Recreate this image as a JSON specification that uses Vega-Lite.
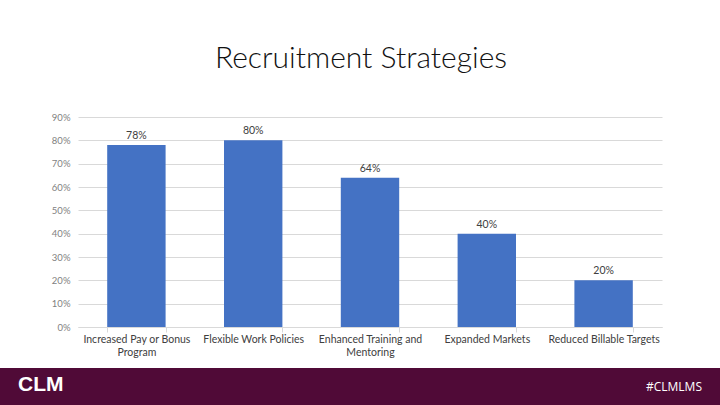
{
  "$schema": "https://vega.github.io/schema/vega-lite/v6.json",
  "width": 584,
  "height": 210,
  "autosize": {"type": "none"},
  "padding": {"left": 78, "top": 117, "right": 58, "bottom": 78},
  "background": "white",
  "title": {
    "text": "Recruitment Strategies",
    "font": "Lato",
    "fontSize": 30,
    "fontWeight": 300,
    "color": "#111111",
    "anchor": "middle",
    "baseline": "alphabetic",
    "offset": 14,
    "dx": -9
  },
  "config": {
    "view": {"stroke": null},
    "font": "Lato"
  },
  "layer": [
    {
      "data": {
        "values": [
          {"strategy": "Increased Pay or Bonus Program", "share": 0.78},
          {"strategy": "Flexible Work Policies", "share": 0.80},
          {"strategy": "Enhanced Training and Mentoring", "share": 0.64},
          {"strategy": "Expanded Markets", "share": 0.40},
          {"strategy": "Reduced Billable Targets", "share": 0.20}
        ]
      },
      "encoding": {
        "x": {
          "field": "strategy",
          "type": "nominal",
          "sort": null,
          "scale": {"paddingInner": 0.5, "paddingOuter": 0.25},
          "axis": {
            "title": null,
            "labelAngle": 0,
            "labelFont": "Lato",
            "labelFontSize": 10.5,
            "labelColor": "#404040",
            "labelBaseline": "top",
            "labelLineHeight": 13,
            "labelPadding": 2,
            "labelExpr": "datum.value == 'Increased Pay or Bonus Program' ? ['Increased Pay or Bonus', 'Program'] : datum.value == 'Enhanced Training and Mentoring' ? ['Enhanced Training and', 'Mentoring'] : datum.label",
            "domainColor": "#D9D9D9",
            "ticks": true,
            "tickBand": "extent",
            "tickColor": "#D9D9D9",
            "tickSize": 5,
            "grid": false
          }
        },
        "y": {
          "field": "share",
          "type": "quantitative",
          "scale": {"domain": [0, 0.9], "nice": false},
          "axis": {
            "title": null,
            "format": ".0%",
            "values": [0, 0.1, 0.2, 0.3, 0.4, 0.5, 0.6, 0.7, 0.8, 0.9],
            "domain": false,
            "ticks": false,
            "labelFont": "Lato",
            "labelFontSize": 9.5,
            "labelColor": "#7F7F7F",
            "labelPadding": 8,
            "grid": true,
            "gridColor": "#D9D9D9",
            "gridWidth": 1
          }
        }
      },
      "layer": [
        {"mark": {"type": "bar", "color": "#4472C4"}},
        {
          "mark": {"type": "text", "baseline": "bottom", "dy": -4, "font": "Lato", "fontSize": 10.5, "color": "#404040"},
          "encoding": {"text": {"field": "share", "type": "quantitative", "format": ".0%"}}
        }
      ]
    },
    {
      "data": {"values": [{"brand": "CLM", "hashtag": "#CLMLMS"}]},
      "layer": [
        {
          "mark": {"type": "rect", "color": "#500A37"},
          "encoding": {
            "x": {"datum": 0, "type": "quantitative", "scale": {"domain": [0, 1], "range": [-78, 642]}, "axis": null},
            "x2": {"datum": 1},
            "y": {"datum": 0, "type": "quantitative", "scale": {"domain": [0, 1], "range": [288, 251]}, "axis": null},
            "y2": {"datum": 1}
          }
        },
        {
          "mark": {"type": "text", "align": "left", "baseline": "middle", "color": "white", "fontSize": 21, "fontWeight": "bold", "font": "Liberation Sans", "letterSpacing": -1},
          "encoding": {
            "x": {"datum": 0.025, "type": "quantitative"},
            "y": {"datum": 0.55, "type": "quantitative"},
            "text": {"field": "brand"}
          }
        },
        {
          "mark": {"type": "text", "align": "right", "baseline": "middle", "color": "white", "fontSize": 12, "font": "Open Sans"},
          "encoding": {
            "x": {"datum": 0.975, "type": "quantitative"},
            "y": {"datum": 0.5, "type": "quantitative"},
            "text": {"field": "hashtag"}
          }
        }
      ]
    }
  ],
  "resolve": {"scale": {"x": "independent", "y": "independent"}}
}
